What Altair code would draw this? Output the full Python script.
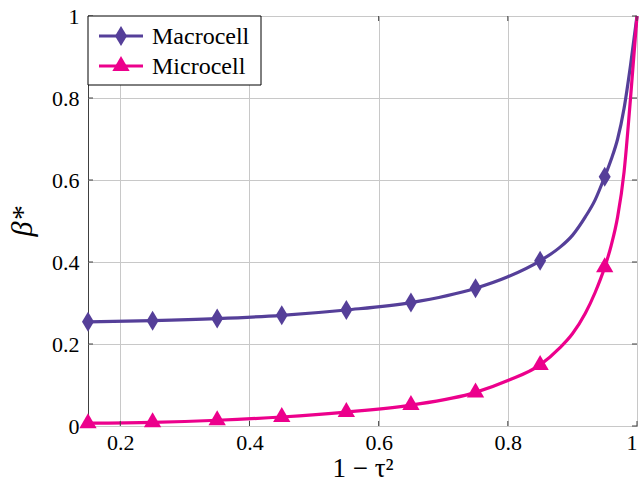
import altair as alt
import pandas as pd

series_names = ["Macrocell", "Microcell"]
series_colors = ["#553f99", "#ec008c"]

# smooth curves
macro_curve_x = [0.15, 0.25, 0.35, 0.45, 0.55, 0.65, 0.75, 0.80, 0.85, 0.88, 0.90, 0.92, 0.935, 0.95, 0.96, 0.97, 0.98, 0.99, 1.0]
macro_curve_y = [0.254, 0.257, 0.262, 0.270, 0.283, 0.301, 0.336, 0.364, 0.403, 0.435, 0.465, 0.510, 0.551, 0.608, 0.650, 0.700, 0.775, 0.880, 1.0]
micro_curve_x = [0.15, 0.25, 0.35, 0.45, 0.55, 0.65, 0.75, 0.80, 0.85, 0.88, 0.90, 0.92, 0.935, 0.95, 0.96, 0.97, 0.98, 0.99, 1.0]
micro_curve_y = [0.007, 0.009, 0.014, 0.022, 0.034, 0.051, 0.082, 0.111, 0.149, 0.190, 0.225, 0.275, 0.325, 0.387, 0.440, 0.510, 0.620, 0.800, 1.0]

# markers
marker_x = [0.15, 0.25, 0.35, 0.45, 0.55, 0.65, 0.75, 0.85, 0.95]
macro_marker_y = [0.254, 0.257, 0.262, 0.270, 0.283, 0.301, 0.336, 0.403, 0.608]
micro_marker_y = [0.007, 0.009, 0.014, 0.022, 0.034, 0.051, 0.082, 0.149, 0.387]

# axis ticks
x_ticks = [0.2, 0.4, 0.6, 0.8, 1.0]
y_ticks = [0.0, 0.2, 0.4, 0.6, 0.8, 1.0]

W, H = 549, 410
FONT = "Liberation Serif"
FRAME = "#404040"

curve_df = pd.concat([
    pd.DataFrame({"x": macro_curve_x, "y": macro_curve_y, "series": "Macrocell", "order": range(len(macro_curve_x))}),
    pd.DataFrame({"x": micro_curve_x, "y": micro_curve_y, "series": "Microcell", "order": range(len(micro_curve_x))}),
])
marker_df = pd.concat([
    pd.DataFrame({"x": marker_x, "y": macro_marker_y, "series": "Macrocell"}),
    pd.DataFrame({"x": marker_x, "y": micro_marker_y, "series": "Microcell"}),
])
xt_df = pd.DataFrame({"v": x_ticks})
yt_df = pd.DataFrame({"v": y_ticks})
legend_df = pd.DataFrame({"series": series_names})

xscale = alt.Scale(domain=[0.15, 1.0], nice=False, zero=False)
yscale = alt.Scale(domain=[0, 1], nice=False)
color_scale = alt.Scale(domain=series_names, range=series_colors)

diamond = "M0,-1L0.6,0L0,1L-0.6,0Z"
triangle = "M0,-1L0.866,0.5L-0.866,0.5Z"
series_shapes = [diamond, triangle]

x_axis = alt.Axis(values=x_ticks, format="~g", title="1 − τ²",
                  labelFont=FONT, titleFont=FONT)
y_axis = alt.Axis(values=y_ticks, format="~g", title="β*", titleFontStyle="italic",
                  labelFont=FONT, titleFont=FONT)

lines = alt.Chart(curve_df).mark_line(strokeWidth=3.2, interpolate="monotone").encode(
    x=alt.X("x:Q", scale=xscale, axis=x_axis),
    y=alt.Y("y:Q", scale=yscale, axis=y_axis),
    color=alt.Color("series:N", scale=color_scale, legend=None),
    order="order:Q",
    detail="series:N",
)

def marker_layer(name, path):
    return alt.Chart(marker_df).transform_filter(
        alt.datum.series == name
    ).mark_point(filled=True, size=400, opacity=1, shape=path).encode(
        x=alt.X("x:Q", scale=xscale, axis=x_axis),
        y=alt.Y("y:Q", scale=yscale, axis=y_axis),
        color=alt.Color("series:N", scale=color_scale, legend=None),
    )

def tick_layer(df, **enc):
    return alt.Chart(df).mark_rule(color=FRAME, strokeWidth=1).encode(**enc)

tick_bottom = tick_layer(xt_df, x=alt.X("v:Q", scale=xscale, axis=x_axis), y=alt.value(H), y2=alt.value(H - 5))
tick_top = tick_layer(xt_df, x=alt.X("v:Q", scale=xscale, axis=x_axis), y=alt.value(0), y2=alt.value(5))
tick_left = tick_layer(yt_df, y=alt.Y("v:Q", scale=yscale, axis=y_axis), x=alt.value(0), x2=alt.value(5))
tick_right = tick_layer(yt_df, y=alt.Y("v:Q", scale=yscale, axis=y_axis), x=alt.value(W), x2=alt.value(W - 5))

# legend box (top-left corner of the plot)
LEG_W, LEG_H = 173, 69
legend_box = alt.Chart(legend_df).transform_filter(alt.datum.series == series_names[0]).mark_rect(
    fill="white", stroke="black", strokeWidth=1
).encode(x=alt.value(0), x2=alt.value(LEG_W), y=alt.value(0), y2=alt.value(LEG_H))

legend_layers = []
for i, (name, col, shp) in enumerate(zip(series_names, series_colors, series_shapes)):
    yc = 20 + 30 * i
    src = alt.Chart(legend_df).transform_filter(alt.datum.series == name)
    legend_layers.append(src.mark_rule(color=col, strokeWidth=3.2).encode(
        x=alt.value(11), x2=alt.value(55), y=alt.value(yc)))
    legend_layers.append(src.mark_point(filled=True, size=400, opacity=1, shape=shp, color=col).encode(
        x=alt.value(33), y=alt.value(yc)))
    legend_layers.append(src.mark_text(align="left", baseline="middle", font=FONT, fontSize=24,
                                       color="black", dy=1).encode(
        x=alt.value(64), y=alt.value(yc), text="series:N"))

chart = alt.layer(
    lines, tick_bottom, tick_top, tick_left, tick_right,
    marker_layer("Macrocell", diamond), marker_layer("Microcell", triangle),
    legend_box, *legend_layers
).properties(
    width=W, height=H,
    autosize=alt.AutoSizeParams(type="none"),
    padding={"left": 88, "top": 16, "right": 3, "bottom": 61},
).configure(
    font=FONT
).configure_view(
    stroke=FRAME, strokeWidth=1
).configure_axis(
    grid=True, gridColor="#c8c8c8", gridWidth=1, tickSize=0, domain=False,
    labelFont=FONT, labelFontSize=22, labelColor="black",
    titleFont=FONT, titleFontSize=28, titleFontWeight="normal", titleColor="black",
).configure_axisX(
    labelPadding=6, titlePadding=2, titleFontSize=27,
).configure_axisY(
    labelPadding=9, titlePadding=14, titleFontSize=30,
)

chart.save("out.html", embed_options={"renderer": "svg", "actions": False})
